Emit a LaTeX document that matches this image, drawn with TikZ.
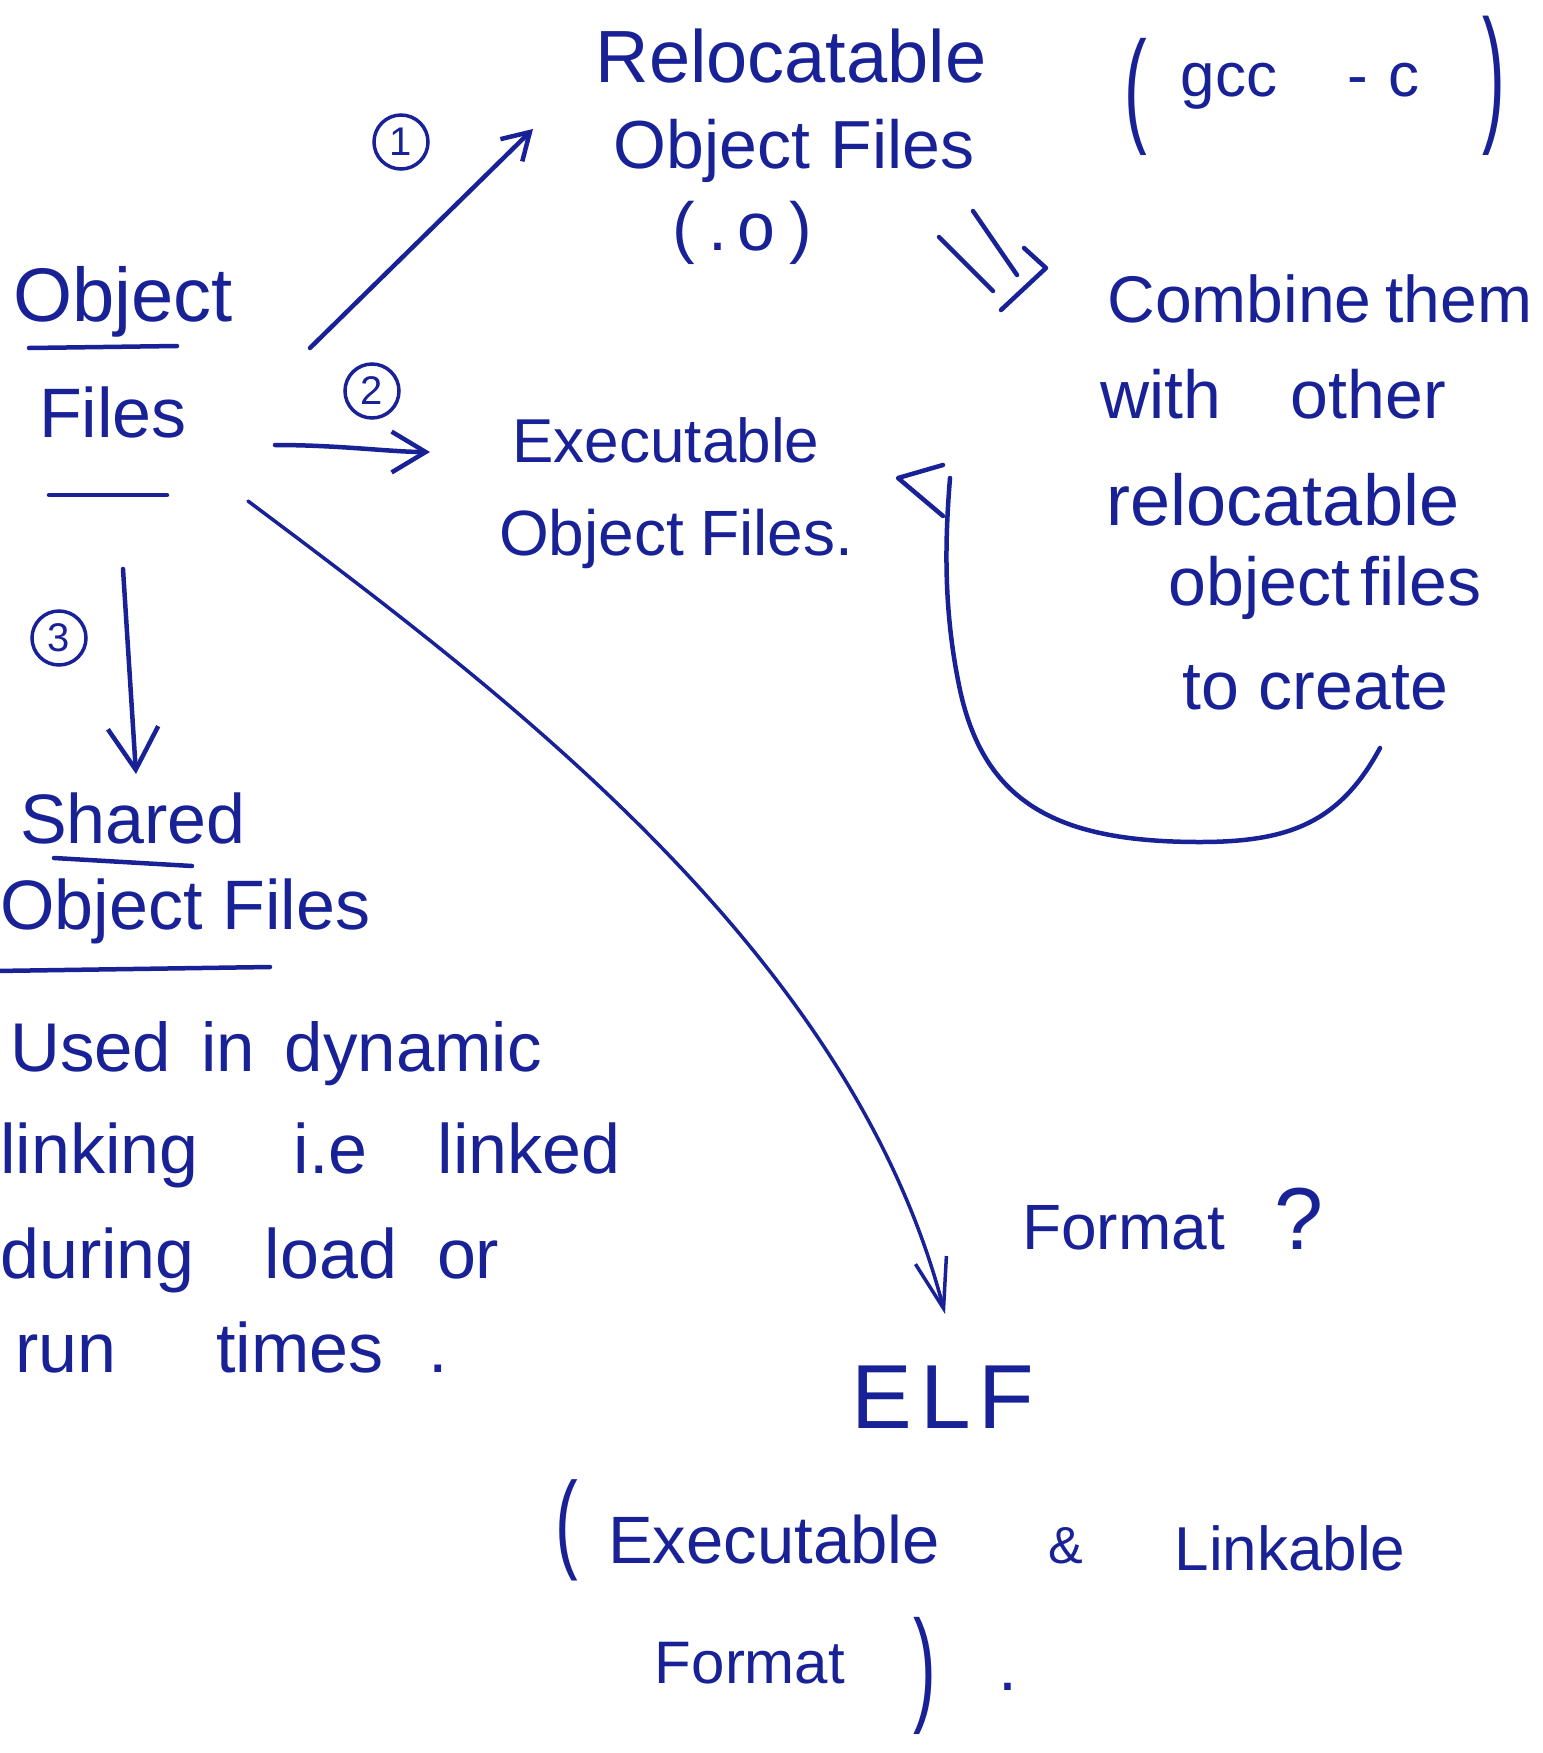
\documentclass[tikz,border=0pt]{standalone}
\usepackage{fontspec}
\setmainfont{Liberation Sans}
\usetikzlibrary{arrows.meta}
\definecolor{ink}{RGB}{24,34,150}
\newcommand{\fsz}[1]{\fontsize{#1}{#1}\selectfont}
\begin{document}
\begin{tikzpicture}[x=1pt,y=-1pt,
  txt/.style={text=ink, inner sep=0pt, anchor=base, font=\fsz{68}},
  txtw/.style={txt, anchor=base west},
  pen/.style={draw=ink, line width=4.5pt, line cap=round, line join=round},
  num/.style={circle, draw=ink, line width=3.5pt, text=ink, inner sep=0pt,
              minimum size=54pt, font=\fsz{40}},
  barb/.style={-{Straight Barb[length=#1, width=1.2*#1]}},
  barb/.default=30pt]

\useasboundingbox (0,0) rectangle (1542,1753);

% ---------- texts ----------
\node[txt, font=\fsz{74}] (reloc) at (791,82) {Relocatable};
\node[txt, font=\fsz{68}] (relobj) at (794,168) {Object\hspace{20pt}Files};
\node[txt, font=\fsz{68}] (relo) at (742,250) {(\hspace{14pt}.\hspace{10pt}o\hspace{14pt})};

\node[txt, anchor=center, font=\fsz{68}] (gccl) at (1136,97) {\scalebox{1}[1.85]{(}};
\node[txt, font=\fsz{62}] (gcc) at (1300,96) {gcc\hspace{70pt}-\hspace{20pt}c};
\node[txt, anchor=center, font=\fsz{68}] (gccr) at (1494,86) {\scalebox{1}[2.2]{)}};

\node[num] (n1) at (401,142) {1};
\node[num] (n2) at (372,391) {2};
\node[num] (n3) at (59,638) {3};

\node[txt, font=\fsz{76}] (objL) at (123,321) {Object};
\node[txt, font=\fsz{70}] (filesL) at (113,437) {Files};

\node[txt, font=\fsz{62}] (exe) at (666,462) {Executable};
\node[txt, font=\fsz{64}] (exeobj) at (676,555) {Object\hspace{16pt}Files.};

\node[txt, font=\fsz{66}] (comb1) at (1320,322) {Combine\hspace{14pt}them};
\node[txt, font=\fsz{68}] (comb2) at (1273,418) {with\hspace{70pt}other};
\node[txt, font=\fsz{72}] (comb3) at (1283,525) {relocatable};
\node[txt, font=\fsz{68}] (comb4) at (1325,605) {object\hspace{10pt}files};
\node[txt, font=\fsz{68}] (comb5) at (1315,709) {to\hspace{20pt}create};

\node[txt, font=\fsz{70}] (shared) at (133,843) {Shared};
\node[txtw, font=\fsz{70}] (shobj) at (0,929) {Object\hspace{20pt}Files};

\node[txtw, font=\fsz{69}] (use1) at (10,1071) {Used\hspace{30pt}in\hspace{30pt}dynamic};
\node[txtw, font=\fsz{70}] (use2) at (0,1173) {linking\hspace{95pt}i.e\hspace{70pt}linked};
\node[txtw, font=\fsz{70}] (use3) at (0,1278) {during\hspace{70pt}load\hspace{40pt}or};
\node[txtw, font=\fsz{70}] (use4) at (15,1372) {run\hspace{100pt}times\hspace{45pt}.};

\node[txtw, font=\fsz{64}] (fmtq) at (1022,1249) {Format\hspace{50pt}{\fsz{88}?}};

\node[txt, font=\fsz{91}] (elf) at (943,1428) {E\hspace{8pt}L\hspace{8pt}F};
\node[txt, anchor=center, font=\fsz{68}] (elfl) at (567,1530) {\scalebox{1}[1.6]{(}};
\node[txt, font=\fsz{67}] (elfexe) at (774,1563) {Executable};
\node[txt, font=\fsz{52}] (amp) at (1066,1563) {\&};
\node[txt, font=\fsz{62}] (elflink) at (1290,1570) {Linkable};
\node[txt, font=\fsz{60}] (elffmt) at (750,1683) {Format};
\node[txt, anchor=center, font=\fsz{68}] (elfr) at (925,1676) {\scalebox{1}[1.85]{)}};
\node[txt, font=\fsz{68}] (elfdot) at (1008,1690) {.};

% ---------- underlines ----------
\draw[pen] (29,348) -- (177,346);
\draw[pen] (49,495) -- (167,495);
\draw[pen] (54,858) -- (192,866);
\draw[pen] (-5,971) -- (270,967);

% ---------- connector end points ----------
\coordinate (a1s) at (310,348);
\coordinate (a1e) at (533,129);
\coordinate (a2s) at (275,445);
\coordinate (a2e) at (430,452);
\coordinate (a3s) at (123,569);
\coordinate (a3e) at (136,774);
\coordinate (a4s) at (248,501);
\coordinate (a4e) at (945,1314);
\coordinate (bs) at (1380,748);
\coordinate (be) at (950,478);

% ---------- connectors ----------
\draw[pen, barb=26pt] (a1s) -- (a1e);
\draw[pen, barb=34pt] (a2s) .. controls (340,445) and (390,452) .. (a2e);
\draw[pen, barb=42pt] (a3s) -- (a3e);
\draw[pen, line width=3.5pt, -{Straight Barb[length=50pt, width=32pt]}]
  (a4s) .. controls (500,690) and (850,950) .. (a4e);

% double arrow toward the note on the right
\draw[pen] (939,237) -- (993,291);
\draw[pen] (973,211) -- (1017,275);
\draw[pen] (1024,248) -- (1046,268) -- (1001,310);

% loop back to the executable object files
\draw[pen] (bs) .. controls (1340,822) and (1290,842) .. (1200,842)
  .. controls (1060,842) and (985,805) .. (960,690)
  .. controls (943,610) and (945,540) .. (be);
\draw[pen] (943,465) -- (898,478) -- (943,516);
\end{tikzpicture}
\end{document}
